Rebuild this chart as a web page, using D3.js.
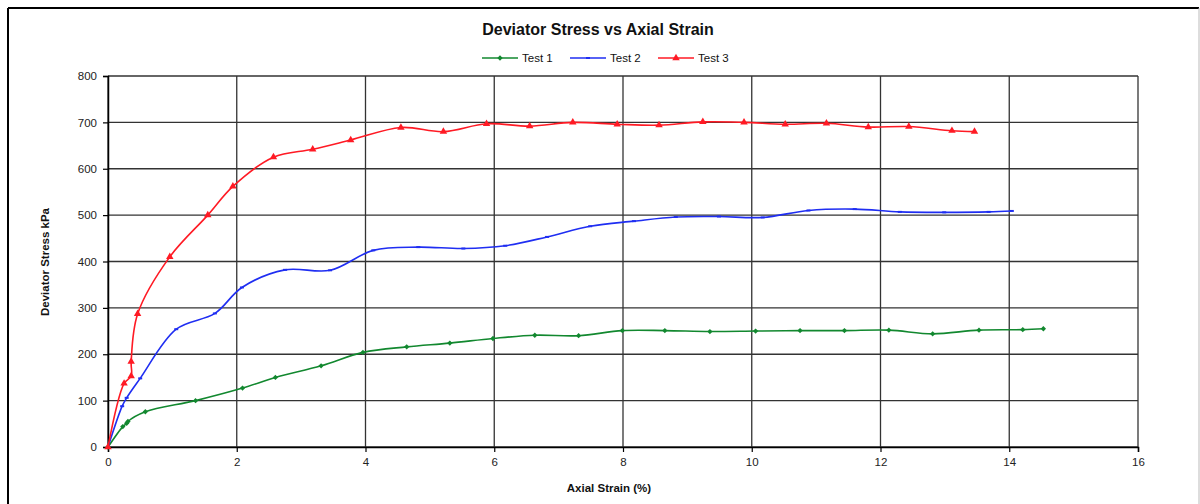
<!DOCTYPE html>
<html>
<head>
<meta charset="utf-8">
<script src="https://cdn.jsdelivr.net/npm/d3@7"></script>
<style>
  body { margin: 0; background: #fff; }
  text { font-family: "Liberation Sans", Arial, sans-serif; fill: #111; }
</style>
</head>
<body>
<div id="chart"></div>
<script>
// strain (%) and deviator stress (kPa)
var test1Strain = [0, 0.23, 0.29, 0.31, 0.58, 1.36, 2.09, 2.60, 3.31, 3.96, 4.64, 5.31, 5.98, 6.63, 7.31, 7.99, 8.65, 9.35, 10.06, 10.75, 11.44, 12.13, 12.81, 13.53, 14.21, 14.53];
var test1Stress = [0, 44, 51, 55, 76, 100, 127, 150, 175, 204, 216, 224, 234, 241, 240, 251, 251, 249, 250, 251, 251, 252, 244, 252, 253, 255];

var test2Strain = [0, 0.22, 0.29, 0.50, 1.06, 1.66, 2.08, 2.75, 3.45, 4.12, 4.82, 5.52, 6.17, 6.82, 7.49, 8.17, 8.82, 9.49, 10.17, 10.88, 11.60, 12.30, 12.99, 13.68, 14.04];
var test2Stress = [0, 88, 106, 148, 254, 288, 344, 382, 381, 424, 431, 428, 434, 453, 476, 487, 496, 497, 495, 510, 513, 507, 506, 507, 509];

var test3Strain = [0, 0.25, 0.36, 0.36, 0.46, 0.96, 1.55, 1.94, 2.57, 3.18, 3.77, 4.55, 5.21, 5.88, 6.55, 7.22, 7.91, 8.56, 9.24, 9.88, 10.52, 11.16, 11.81, 12.44, 13.11, 13.46];
var test3Stress = [0, 137, 153, 184, 287, 410, 500, 562, 625, 642, 662, 689, 680, 697, 692, 700, 696, 694, 701, 700, 696, 698, 690, 691, 682, 680];

var seriesNames = ["Test 1", "Test 2", "Test 3"];
var seriesColors = ["#12882f", "#1f2ef2", "#ff1a24"];
var seriesMarkers = ["diamond", "dash", "triangle"];

var xTicks = [0, 2, 4, 6, 8, 10, 12, 14, 16];
var yTicks = [0, 100, 200, 300, 400, 500, 600, 700, 800];

var width = 1200, height = 504;
var margin = { left: 108, right: 62, top: 76, bottom: 57 };

var svg = d3.select("#chart").append("svg")
    .attr("width", width)
    .attr("height", height);

// outer frame
svg.append("line").attr("x1", 8).attr("y1", 8).attr("x2", 1199).attr("y2", 8)
    .style("stroke", "#000").style("stroke-width", 2);
svg.append("line").attr("x1", 8).attr("y1", 8).attr("x2", 8).attr("y2", height)
    .style("stroke", "#000").style("stroke-width", 2);
svg.append("line").attr("x1", 1199).attr("y1", 8).attr("x2", 1199).attr("y2", height)
    .style("stroke", "#bbb").style("stroke-width", 1);

var x = d3.scaleLinear().domain([0, 16]).range([margin.left, width - margin.right]);
var y = d3.scaleLinear().domain([0, 800]).range([height - margin.bottom, margin.top]);

// grid
svg.append("g").selectAll("line").data(yTicks).enter().append("line")
    .attr("x1", x(0)).attr("x2", x(16))
    .attr("y1", function (d) { return y(d); })
    .attr("y2", function (d) { return y(d); })
    .style("stroke", "#333").style("stroke-width", 1.3);
svg.append("g").selectAll("line").data(xTicks).enter().append("line")
    .attr("y1", y(0)).attr("y2", y(800))
    .attr("x1", function (d) { return x(d); })
    .attr("x2", function (d) { return x(d); })
    .style("stroke", "#333").style("stroke-width", 1.3);

// axes
var yAxis = svg.append("g")
    .attr("transform", "translate(" + x(0) + ",0)")
    .call(d3.axisLeft(y).tickValues(yTicks).tickSize(5).tickPadding(6));
var xAxis = svg.append("g")
    .attr("transform", "translate(0," + y(0) + ")")
    .call(d3.axisBottom(x).tickValues(xTicks).tickSize(5).tickPadding(6));
[xAxis, yAxis].forEach(function (a) {
    a.select(".domain").style("stroke", "#000").style("stroke-width", 1.5);
    a.selectAll(".tick line").style("stroke", "#000").style("stroke-width", 1.2);
    a.selectAll(".tick text")
        .style("font-family", "Liberation Sans, Arial, sans-serif")
        .style("font-size", "11.5px")
        .style("fill", "#222");
});

// titles
svg.append("text")
    .attr("x", 598).attr("y", 35)
    .attr("text-anchor", "middle")
    .style("font-size", "16px").style("font-weight", "bold")
    .text("Deviator Stress vs Axial Strain");
svg.append("text")
    .attr("x", 609).attr("y", 492)
    .attr("text-anchor", "middle")
    .style("font-size", "11.5px").style("font-weight", "bold")
    .text("Axial Strain (%)");
svg.append("text")
    .attr("transform", "translate(49,262) rotate(-90)")
    .attr("text-anchor", "middle")
    .style("font-size", "11.5px").style("font-weight", "bold")
    .text("Deviator Stress kPa");

function marker(g, kind, color, cx, cy) {
    if (kind == "diamond") {
        g.append("path")
            .attr("d", d3.symbol().type(d3.symbolSquare).size(14)())
            .attr("transform", "translate(" + cx + "," + cy + ") rotate(45)")
            .attr("fill", color);
    } else if (kind == "triangle") {
        g.append("path")
            .attr("d", d3.symbol().type(d3.symbolTriangle).size(24)())
            .attr("transform", "translate(" + cx + "," + cy + ")")
            .attr("fill", color);
    } else {
        g.append("rect")
            .attr("x", cx - 2).attr("y", cy - 1).attr("width", 4).attr("height", 2)
            .attr("fill", color);
    }
}

var allSeries = [
    { xs: test1Strain, ys: test1Stress },
    { xs: test2Strain, ys: test2Stress },
    { xs: test3Strain, ys: test3Stress }
];

var line = d3.line()
    .x(function (d) { return x(d[0]); })
    .y(function (d) { return y(d[1]); })
    .curve(d3.curveCatmullRom.alpha(0.5));

allSeries.forEach(function (s, i) {
    var pts = s.xs.map(function (v, k) { return [v, s.ys[k]]; });
    var g = svg.append("g");
    g.append("path")
        .datum(pts)
        .attr("d", line)
        .attr("fill", "none")
        .style("stroke", seriesColors[i])
        .style("stroke-width", 1.6);
    pts.forEach(function (p) {
        marker(g, seriesMarkers[i], seriesColors[i], x(p[0]), y(p[1]));
    });
});

// legend
var legendX = [482, 570, 658];
seriesNames.forEach(function (name, i) {
    var g = svg.append("g");
    g.append("line")
        .attr("x1", legendX[i]).attr("x2", legendX[i] + 36)
        .attr("y1", 58).attr("y2", 58)
        .style("stroke", seriesColors[i]).style("stroke-width", 1.6);
    marker(g, seriesMarkers[i], seriesColors[i], legendX[i] + 18, 58);
    g.append("text")
        .attr("x", legendX[i] + 40).attr("y", 62)
        .style("font-size", "11.5px")
        .text(name);
});
</script>
</body>
</html>
